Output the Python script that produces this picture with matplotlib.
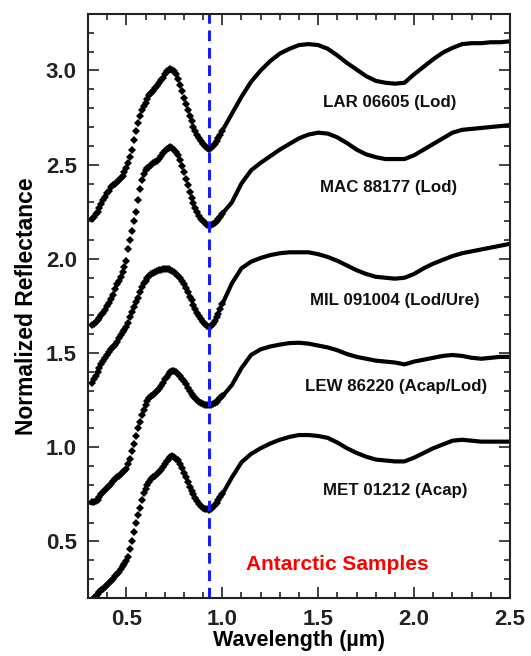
import numpy as np
import matplotlib
matplotlib.use("Agg")
import matplotlib.pyplot as plt
from matplotlib.ticker import MultipleLocator

plt.rcParams['font.family'] = ['Liberation Sans', 'DejaVu Sans']

# Wavelength grids (micrometres)
wl_vis = np.round(np.arange(0.32, 1.005, 0.01), 2)   # visible part, discrete markers
wl_nir = np.round(np.arange(1.00, 2.505, 0.05), 2)   # near-IR part, dense trace

names = ["LAR 06605 (Lod)", "MAC 88177 (Lod)", "MIL 091004 (Lod/Ure)",
         "LEW 86220 (Acap/Lod)", "MET 01212 (Acap)"]

lar_vis = [2.21, 2.22, 2.24, 2.25, 2.27, 2.29, 2.31, 2.33, 2.35, 2.36,
           2.38, 2.39, 2.40, 2.41, 2.42, 2.43, 2.44, 2.46, 2.48, 2.51,
           2.54, 2.58, 2.63, 2.68, 2.72, 2.76, 2.79, 2.81, 2.83, 2.85,
           2.87, 2.88, 2.89, 2.905, 2.92, 2.935, 2.95, 2.96, 2.98, 2.995,
           3.005, 3.01, 3.005, 2.995, 2.98, 2.955, 2.925, 2.89, 2.855, 2.82,
           2.79, 2.76, 2.73, 2.70, 2.68, 2.66, 2.64, 2.625, 2.61, 2.60,
           2.59, 2.585, 2.59, 2.60, 2.61, 2.625, 2.64, 2.66, 2.68]
lar_nir = [2.68, 2.77, 2.86, 2.94, 3.00, 3.05, 3.09, 3.115, 3.135, 3.14,
           3.135, 3.115, 3.08, 3.04, 3.005, 2.97, 2.945, 2.935, 2.93, 2.935,
           2.98, 3.02, 3.06, 3.095, 3.12, 3.14, 3.145, 3.145, 3.15, 3.15, 3.155]

mac_vis = [1.65, 1.655, 1.665, 1.675, 1.685, 1.70, 1.715, 1.73, 1.75, 1.765,
           1.785, 1.81, 1.84, 1.865, 1.885, 1.905, 1.93, 1.955, 1.99, 2.05,
           2.10, 2.15, 2.20, 2.25, 2.31, 2.37, 2.42, 2.45, 2.47, 2.48,
           2.49, 2.50, 2.51, 2.515, 2.52, 2.53, 2.545, 2.56, 2.575, 2.585,
           2.59, 2.595, 2.59, 2.58, 2.57, 2.55, 2.525, 2.495, 2.46, 2.425,
           2.39, 2.355, 2.325, 2.295, 2.27, 2.25, 2.23, 2.21, 2.20, 2.19,
           2.18, 2.178, 2.18, 2.185, 2.19, 2.20, 2.21, 2.225, 2.24]
mac_nir = [2.24, 2.30, 2.40, 2.47, 2.51, 2.545, 2.58, 2.61, 2.64, 2.66,
           2.67, 2.665, 2.645, 2.615, 2.58, 2.555, 2.54, 2.53, 2.53, 2.53,
           2.55, 2.58, 2.61, 2.64, 2.67, 2.685, 2.69, 2.695, 2.70, 2.705, 2.71]

mil_vis = [1.34, 1.36, 1.38, 1.40, 1.42, 1.44, 1.46, 1.475, 1.49, 1.505,
           1.52, 1.53, 1.545, 1.56, 1.58, 1.595, 1.61, 1.625, 1.64, 1.66,
           1.69, 1.72, 1.745, 1.77, 1.795, 1.825, 1.85, 1.87, 1.885, 1.90,
           1.91, 1.92, 1.925, 1.93, 1.935, 1.94, 1.942, 1.945, 1.945, 1.945,
           1.945, 1.94, 1.935, 1.93, 1.92, 1.91, 1.90, 1.885, 1.865, 1.845,
           1.825, 1.80, 1.78, 1.755, 1.735, 1.715, 1.695, 1.68, 1.665, 1.655,
           1.645, 1.64, 1.645, 1.655, 1.67, 1.69, 1.71, 1.735, 1.76]
mil_nir = [1.76, 1.87, 1.95, 1.985, 2.005, 2.02, 2.03, 2.035, 2.035, 2.035,
           2.025, 2.01, 1.99, 1.965, 1.94, 1.92, 1.905, 1.90, 1.895, 1.90,
           1.92, 1.95, 1.975, 1.995, 2.015, 2.03, 2.04, 2.05, 2.06, 2.07, 2.08]

lew_vis = [0.71, 0.71, 0.715, 0.72, 0.735, 0.75, 0.765, 0.775, 0.785, 0.795,
           0.805, 0.82, 0.83, 0.84, 0.85, 0.86, 0.87, 0.875, 0.885, 0.91,
           0.94, 0.98, 1.02, 1.06, 1.10, 1.135, 1.17, 1.20, 1.225, 1.245,
           1.26, 1.27, 1.28, 1.29, 1.30, 1.31, 1.325, 1.34, 1.36, 1.375,
           1.39, 1.40, 1.405, 1.405, 1.40, 1.39, 1.38, 1.365, 1.35, 1.335,
           1.315, 1.30, 1.285, 1.27, 1.26, 1.25, 1.24, 1.235, 1.23, 1.227,
           1.225, 1.225, 1.227, 1.23, 1.235, 1.24, 1.25, 1.26, 1.27]
lew_nir = [1.27, 1.33, 1.42, 1.49, 1.52, 1.535, 1.545, 1.553, 1.555, 1.55,
           1.54, 1.53, 1.515, 1.495, 1.48, 1.47, 1.46, 1.455, 1.45, 1.44,
           1.455, 1.465, 1.475, 1.485, 1.49, 1.485, 1.475, 1.47, 1.475, 1.48, 1.48]

met_vis = [0.19, 0.20, 0.21, 0.22, 0.23, 0.24, 0.25, 0.26, 0.27, 0.28,
           0.29, 0.30, 0.315, 0.33, 0.34, 0.355, 0.37, 0.38, 0.395, 0.42,
           0.46, 0.50, 0.55, 0.60, 0.64, 0.68, 0.72, 0.755, 0.78, 0.80,
           0.815, 0.83, 0.84, 0.85, 0.86, 0.87, 0.88, 0.895, 0.91, 0.925,
           0.94, 0.95, 0.955, 0.95, 0.94, 0.93, 0.91, 0.89, 0.865, 0.84,
           0.815, 0.79, 0.77, 0.75, 0.73, 0.715, 0.70, 0.69, 0.68, 0.675,
           0.67, 0.668, 0.675, 0.685, 0.695, 0.705, 0.72, 0.735, 0.75]
met_nir = [0.75, 0.84, 0.92, 0.965, 0.995, 1.02, 1.04, 1.055, 1.065, 1.065,
           1.06, 1.05, 1.025, 0.995, 0.97, 0.95, 0.935, 0.93, 0.925, 0.925,
           0.945, 0.97, 0.995, 1.015, 1.035, 1.04, 1.035, 1.03, 1.03, 1.03, 1.03]

vis_series = [lar_vis, mac_vis, mil_vis, lew_vis, met_vis]
nir_series = [lar_nir, mac_nir, mil_nir, lew_nir, met_nir]

label_x = [1.875, 1.865, 1.90, 1.905, 1.90]
label_y = [2.83, 2.38, 1.78, 1.325, 0.77]

band_center = 0.932

fig = plt.figure(figsize=(5.31, 6.56), dpi=100)
ax = fig.add_axes([0.1657, 0.0884, 0.7948, 0.8903])

for v, n in zip(vis_series, nir_series):
    ax.plot(wl_vis, v, linestyle='none', marker='D', markersize=3.6,
            color='black', markeredgewidth=0)
    ax.plot(wl_nir, n, linestyle='-', linewidth=3.0, color='black',
            solid_capstyle='round', solid_joinstyle='round')

ax.axvline(band_center, color='#1a1aff', linewidth=2.2, linestyle=(0, (3.5, 2.2)))

for name, lx, ly in zip(names, label_x, label_y):
    ax.text(lx, ly, name, ha='center', va='center', fontsize=12.2,
            fontweight='bold', color='#111111')

ax.text(1.60, 0.378, "Antarctic Samples", ha='center', va='center',
        fontsize=15, fontweight='bold', color='red')

ax.set_xlim(0.3, 2.5)
ax.set_ylim(0.2, 3.3)
ax.xaxis.set_major_locator(MultipleLocator(0.5))
ax.xaxis.set_minor_locator(MultipleLocator(0.1))
ax.yaxis.set_major_locator(MultipleLocator(0.5))
ax.yaxis.set_minor_locator(MultipleLocator(0.1))
ax.tick_params(which='both', direction='in', top=True, right=True,
               width=1.2, colors='#222222')
ax.tick_params(which='major', length=8, labelsize=16, pad=8)
ax.tick_params(which='minor', length=4)
for lab in ax.get_xticklabels() + ax.get_yticklabels():
    lab.set_fontweight('bold')
for s in ax.spines.values():
    s.set_linewidth(1.5)
    s.set_color('#222222')

ax.set_xlabel("Wavelength (\u00b5m)", fontsize=15.5, fontweight='bold', labelpad=0)
ax.set_ylabel("Normalized Reflectance", fontsize=16.5, fontweight='bold', labelpad=6)

fig.savefig("out.png", dpi=100)
